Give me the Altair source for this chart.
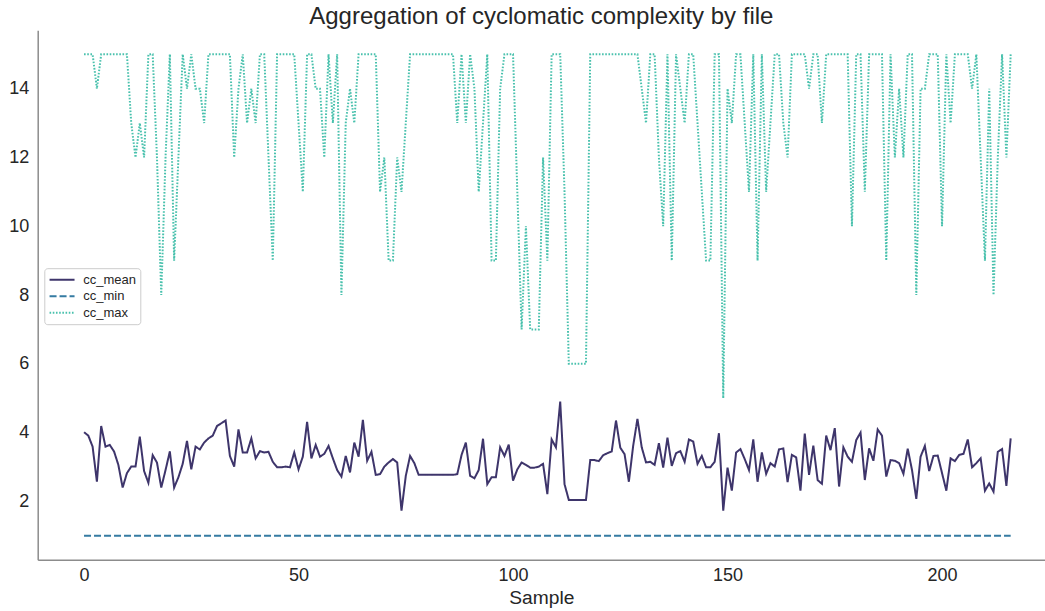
import altair as alt
import pandas as pd

# Sample index along the x axis
SAMPLE = list(range(217))

# Per-file mean cyclomatic complexity
CC_MEAN = [
    4.01, 3.91, 3.59, 2.57, 4.19, 3.59, 3.64, 3.45, 3.06, 2.40,
    2.82, 3.01, 3.01, 3.88, 2.88, 2.54, 3.34, 3.13, 2.40, 2.91,
    3.45, 2.40, 2.70, 3.09, 3.76, 2.93, 3.59, 3.51, 3.71, 3.83,
    3.91, 4.19, 4.27, 4.35, 3.32, 3.01, 4.09, 3.42, 3.42, 3.83,
    3.25, 3.46, 3.42, 3.44, 3.15, 2.99, 2.99, 3.01, 2.99, 3.42,
    2.93, 3.30, 4.31, 3.25, 3.64, 3.30, 3.38, 3.61, 3.25, 2.91,
    2.72, 3.32, 2.84, 3.71, 3.30, 4.37, 3.18, 3.44, 2.77, 2.79,
    3.01, 3.13, 3.23, 3.13, 1.73, 2.74, 3.32, 3.11, 2.77, 2.77,
    2.77, 2.77, 2.77, 2.77, 2.77, 2.77, 2.77, 2.79, 3.35, 3.71,
    2.74, 2.67, 2.91, 3.82, 2.50, 2.70, 2.70, 3.57, 3.32, 3.65,
    2.60, 2.93, 3.13, 3.06, 2.98, 2.98, 3.01, 3.09, 2.21, 3.80,
    3.57, 4.90, 2.50, 2.04, 2.04, 2.04, 2.04, 2.04, 3.20, 3.20,
    3.17, 3.34, 3.40, 3.45, 4.35, 3.56, 3.37, 2.57, 3.61, 4.40,
    3.57, 3.13, 3.15, 3.06, 3.69, 2.98, 3.85, 3.03, 3.40, 3.46,
    3.15, 3.80, 3.74, 3.09, 3.32, 2.99, 2.99, 3.15, 3.98, 1.73,
    2.98, 2.31, 3.42, 3.52, 3.23, 2.91, 3.80, 2.57, 3.42, 2.80,
    3.11, 3.01, 3.51, 3.54, 2.56, 3.35, 3.28, 2.31, 3.97, 2.77,
    3.62, 2.62, 2.51, 3.91, 3.49, 4.13, 2.43, 3.57, 3.30, 3.15,
    3.78, 4.00, 2.62, 3.54, 3.18, 4.09, 3.91, 2.72, 3.20, 3.18,
    3.11, 2.80, 3.53, 2.91, 2.07, 3.30, 3.61, 2.88, 3.32, 3.33,
    2.82, 2.31, 3.25, 3.17, 3.35, 3.38, 3.80, 2.99, 3.11, 3.25,
    2.31, 2.52, 2.28, 3.44, 3.52, 2.45, 3.83,
]

# Per-file minimum (every file has a function of complexity 1)
CC_MIN = [1] * len(SAMPLE)

# Per-file maximum cyclomatic complexity
CC_MAX = [
    15, 15, 15, 14, 15, 15, 15, 15, 15, 15,
    15, 13, 12, 13, 12, 15, 15, 12, 8, 12,
    15, 9, 12, 15, 14, 15, 14, 14, 13, 15,
    15, 15, 15, 15, 15, 12, 14, 15, 13, 14,
    13, 15, 15, 12, 9, 15, 15, 15, 15, 15,
    13, 11, 15, 15, 14, 14, 12, 15, 13, 15,
    8, 13, 14, 13, 15, 15, 15, 15, 15, 11,
    12, 9, 9, 12, 11, 13, 15, 15, 15, 15,
    15, 15, 15, 15, 15, 15, 15, 13, 15, 13,
    15, 14, 11, 13, 15, 9, 9, 14, 15, 15,
    15, 11, 7, 10, 7, 7, 7, 12, 9, 15,
    15, 15, 11, 6, 6, 6, 6, 6, 15, 15,
    15, 15, 15, 15, 15, 15, 15, 15, 15, 15,
    14, 13, 15, 15, 12, 10, 15, 9, 15, 14,
    13, 15, 15, 13, 11, 9, 9, 15, 15, 5,
    14, 13, 15, 15, 13, 11, 15, 9, 15, 11,
    13, 15, 15, 13, 12, 15, 15, 15, 15, 14,
    15, 15, 13, 15, 15, 15, 15, 15, 15, 10,
    15, 15, 11, 15, 15, 15, 15, 9, 15, 12,
    14, 12, 15, 15, 8, 14, 14, 15, 15, 15,
    10, 15, 13, 15, 15, 15, 15, 14, 15, 12,
    9, 14, 8, 12, 15, 12, 15,
]

SERIES = ["cc_mean", "cc_min", "cc_max"]
COLORS = ["#3e356b", "#357ba2", "#49c1ad"]
DASHES = [[1, 0], [7, 3], [1.6, 1.6]]

rows = []
for name, values in zip(SERIES, [CC_MEAN, CC_MIN, CC_MAX]):
    for s, v in zip(SAMPLE, values):
        rows.append({"Sample": s, "value": v, "series": name})
df = pd.DataFrame(rows)

FONT = "Liberation Sans"
INK = "#262626"

# Legend swatch: a short horizontal stroke that starts at the symbol's left
# edge and runs to the right, so the row height stays close to the label's.
SWATCH = "M-1,0H3"

legend = alt.Legend(
    title=None,
    orient="none",
    legendX=6.6,
    legendY=238,
    symbolType=SWATCH,
    symbolSize=156,
    symbolStrokeWidth=2,
    labelFontSize=13,
    labelFont=FONT,
    labelColor=INK,
    labelOffset=20,
    rowPadding=1.5,
    padding=4,
    strokeColor="#cccccc",
    fillColor="#ffffff",
    cornerRadius=3,
)

chart = (
    alt.Chart(df)
    .mark_line(strokeWidth=2, strokeCap="butt")
    .encode(
        x=alt.X(
            "Sample:Q",
            scale=alt.Scale(domain=[-10.8, 224.0], nice=False, zero=False),
            axis=alt.Axis(values=[0, 50, 100, 150, 200], title="Sample"),
        ),
        y=alt.Y(
            "value:Q",
            scale=alt.Scale(domain=[0.3, 15.7], nice=False, zero=False),
            axis=alt.Axis(values=[2, 4, 6, 8, 10, 12, 14], title=None),
        ),
        color=alt.Color(
            "series:N",
            scale=alt.Scale(domain=SERIES, range=COLORS),
            legend=legend,
        ),
        strokeDash=alt.StrokeDash(
            "series:N",
            scale=alt.Scale(domain=SERIES, range=DASHES),
            legend=legend,
        ),
    )
    .properties(
        width=1007.3,
        height=529.6,
        autosize=alt.AutoSizeParams(type="none"),
        padding={"left": 37.7, "top": 30.2, "right": 0, "bottom": 51.2},
        title=alt.Title(
            "Aggregation of cyclomatic complexity by file",
            fontSize=24,
            font=FONT,
            fontWeight="normal",
            color=INK,
            anchor="middle",
            offset=1,
        ),
    )
    .configure_view(stroke=None)
    .configure_axis(
        grid=False,
        ticks=False,
        domainColor="#8c8c8c",
        domainWidth=1.5,
        labelFont=FONT,
        labelFontSize=18,
        labelColor=INK,
        titleFont=FONT,
        titleFontSize=19.2,
        titleFontWeight="normal",
        titleColor=INK,
    )
    .configure_axisX(labelPadding=7, titlePadding=4)
    .configure_axisY(labelPadding=9)
)

chart.save("out.html", embed_options={"renderer": "svg", "actions": False})
